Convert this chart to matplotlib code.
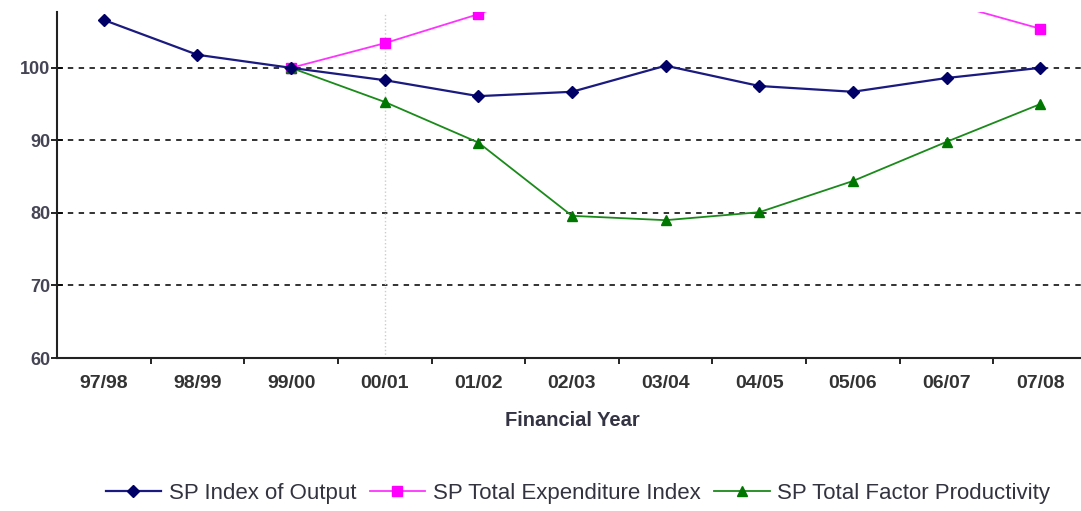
import matplotlib.pyplot as plt
import numpy as np

plt.rcParams['font.family'] = ['Liberation Sans', 'DejaVu Sans']

# data
years = ['97/98', '98/99', '99/00', '00/01', '01/02', '02/03',
         '03/04', '04/05', '05/06', '06/07', '07/08']
output_idx = [106.6, 101.8, 100.0, 98.3, 96.1, 96.7, 100.3, 97.5, 96.7, 98.6, 100.0]
# middle years run off the top of the visible plot area, estimated
expend_idx = [np.nan, np.nan, 100.0, 103.4, 107.4, 112.0, 114.0, 116.0, 114.0, 109.0, 105.4]
tfp_idx = [np.nan, np.nan, 100.0, 95.3, 89.7, 79.6, 79.0, 80.1, 84.4, 89.8, 95.0]
y_ticks = [60, 70, 80, 90, 100]

fig = plt.figure(figsize=(10.81, 5.11), dpi=100)
ax = fig.add_axes([57 / 1081, (511 - 358) / 511, 1030 / 1081, 346 / 511])

x = np.arange(len(years))
ax.plot(x, output_idx, color='#1a1a80', marker='D', markersize=6.5,
        markerfacecolor='#000066', markeredgecolor='#000066', lw=1.6,
        label='SP Index of Output', zorder=4)
ax.plot(x, expend_idx, color='#ff33ff', marker='s', markersize=6.5,
        markerfacecolor='#ff00ff', markeredgecolor='#ff00ff', lw=1.3,
        label='SP Total Expenditure Index', zorder=3)
ax.plot(x, tfp_idx, color='#1a8a1a', marker='^', markersize=7.5,
        markerfacecolor='#007700', markeredgecolor='#007700', lw=1.3,
        label='SP Total Factor Productivity', zorder=3)

# dashed gridlines
for v in y_ticks[1:]:
    ax.axhline(v, color='#222222', ls=(0, (3, 3)), lw=1.3, zorder=1)
ax.axvline(3, color='#cccccc', ls=':', lw=1, zorder=1)

ax.set_xlim(-0.5, len(years) - 0.5)
ax.set_ylim(60, 107.7)
ax.set_yticks(y_ticks)
ax.set_yticklabels([str(v) for v in y_ticks], fontsize=13, fontweight='bold', color='#444455')
ax.set_xticks(x)
ax.set_xticklabels(years, fontsize=14, fontweight='bold', color='#333333')
ax.set_xticks(np.arange(len(years)) + 0.5, minor=True)
ax.tick_params(axis='x', which='major', length=0, pad=12)
ax.tick_params(axis='x', which='minor', length=4, direction='out', width=1.2)
ax.tick_params(axis='y', length=8, direction='inout', width=1.2, pad=1)

for s in ['top', 'right']:
    ax.spines[s].set_visible(False)
ax.spines['left'].set_linewidth(1.5)
ax.spines['bottom'].set_linewidth(1.5)
ax.spines['left'].set_color('#222222')
ax.spines['bottom'].set_color('#222222')

ax.set_xlabel('Financial Year', fontsize=14.5, fontweight='bold', color='#333344', labelpad=14)

ax.legend(loc='center', bbox_to_anchor=(578 / 1081, 18 / 511), bbox_transform=fig.transFigure,
          ncol=3, frameon=False, fontsize=16, handlelength=2.5, columnspacing=0.6,
          handletextpad=0.35, labelcolor='#333340')

fig.savefig('out.png', dpi=100)
